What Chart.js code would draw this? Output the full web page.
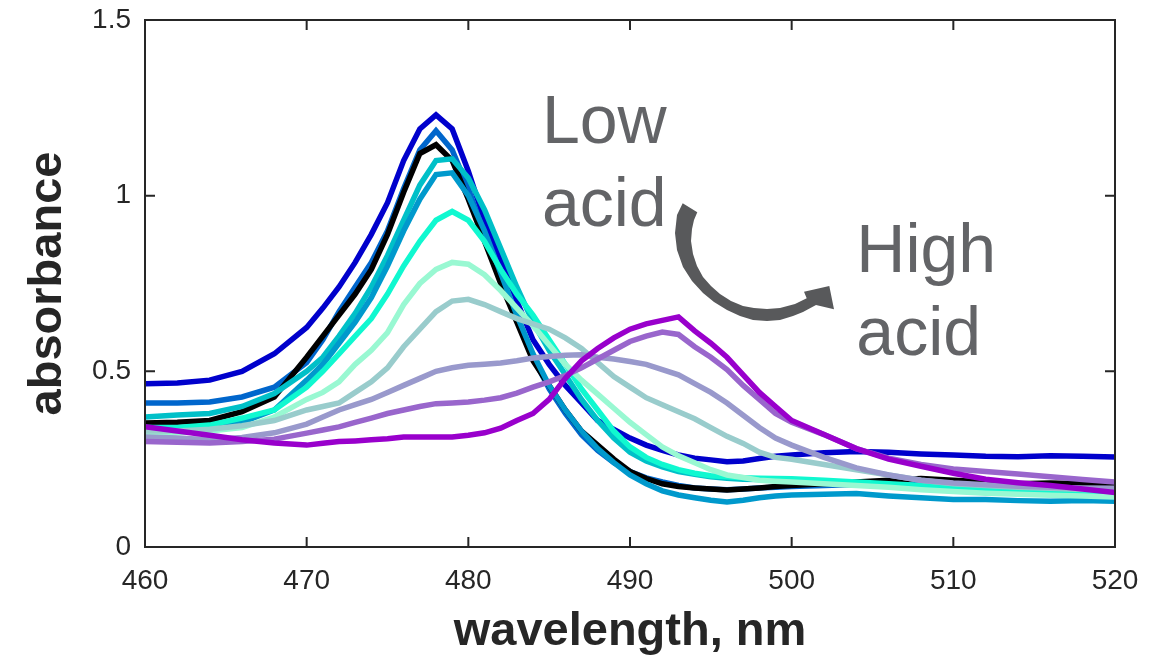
<!DOCTYPE html>
<html>
<head>
<meta charset="utf-8">
<title>absorbance vs wavelength</title>
<script src="https://cdn.jsdelivr.net/npm/chart.js@4.4.1/dist/chart.umd.min.js"></script>
<style>
  body { margin: 0; background: #fff; }
  #wrap { width: 1162px; height: 660px; }
</style>
</head>
<body>
<div id="wrap"><canvas id="spectra"></canvas></div>
<script>
// wavelength (nm) - shared x values of every spectrum
var wavelengths = [460, 462, 464, 466, 468,
  470, 471, 472, 473, 474, 475, 476, 477, 478, 479,
  480, 481, 482, 483, 484, 485, 486, 487, 488, 489,
  490, 491, 492, 493, 494, 495, 496, 497, 498, 499,
  500, 502, 504, 506, 508, 510, 512, 514, 516, 518, 520];

// absorbance, low acid -> high acid
var darkBlue = [.465, .467, .475, .50, .55,
  .625, .68, .74, .81, .89, .98, 1.10, 1.19, 1.23, 1.19,
  1.07, .93, .82, .70, .59, .52, .46, .41, .36, .335,
  .31, .29, .275, .262, .253, .248, .243, .245, .252, .258,
  .262, .268, .272, .27, .265, .262, .258, .257, .26, .258, .256];
var midBlue = [.41, .41, .413, .427, .455,
  .525, .59, .67, .74, .81, .90, 1.02, 1.13, 1.185, 1.13,
  1.02, .89, .77, .65, .54, .45, .38, .32, .275, .24,
  .215, .197, .185, .175, .168, .165, .163, .165, .168, .17,
  .172, .175, .178, .18, .18, .182, .18, .178, .18, .178, .176];
var black = [.353, .355, .36, .385, .427,
  .54, .60, .66, .72, .79, .89, 1.01, 1.12, 1.145, 1.10,
  .99, .87, .75, .64, .53, .46, .39, .33, .29, .25,
  .215, .195, .18, .172, .168, .165, .162, .165, .168, .172,
  .175, .18, .185, .19, .195, .19, .185, .18, .182, .18, .178];
var teal = [.37, .376, .38, .40, .437,
  .50, .54, .60, .665, .74, .83, .93, 1.03, 1.10, 1.105,
  1.05, .96, .85, .74, .64, .56, .49, .42, .36, .31,
  .27, .245, .228, .215, .207, .2, .196, .193, .192, .19,
  .19, .188, .18, .175, .17, .165, .16, .157, .155, .152, .15];
var steelBlue = [.335, .335, .34, .355, .39,
  .475, .52, .58, .64, .71, .80, .90, .99, 1.06, 1.065,
  1.0, .90, .78, .66, .55, .46, .39, .33, .28, .24,
  .205, .18, .16, .148, .14, .133, .128, .133, .14, .145,
  .148, .15, .152, .145, .14, .135, .135, .132, .13, .132, .13];
var aqua = [.34, .34, .347, .367, .39,
  .455, .50, .55, .60, .65, .72, .80, .87, .93, .955,
  .93, .87, .79, .72, .66, .59, .52, .45, .39, .33,
  .285, .255, .235, .22, .21, .203, .2, .197, .196, .195,
  .194, .19, .185, .18, .175, .168, .162, .158, .155, .15, .145];
var lightAqua = [.32, .325, .33, .34, .37,
  .42, .44, .47, .52, .56, .61, .69, .75, .79, .81,
  .805, .775, .73, .68, .63, .575, .52, .475, .435, .395,
  .355, .32, .285, .26, .24, .22, .205, .198, .19, .187,
  .185, .18, .175, .17, .163, .158, .153, .15, .147, .145, .142];
var grayTeal = [.33, .33, .335, .345, .36,
  .39, .40, .41, .44, .47, .51, .57, .62, .67, .70,
  .705, .69, .67, .65, .635, .62, .595, .565, .525, .485,
  .455, .425, .405, .385, .365, .34, .315, .295, .27, .255,
  .25, .235, .22, .205, .19, .18, .175, .17, .167, .164, .162];
var lavender = [.313, .31, .305, .312, .325,
  .35, .37, .39, .405, .42, .44, .46, .48, .50, .51,
  .517, .52, .524, .53, .538, .542, .546, .547, .54, .535,
  .528, .52, .505, .49, .465, .44, .41, .375, .34, .31,
  .29, .255, .225, .205, .19, .182, .177, .173, .17, .168, .167];
var midPurple = [.30, .298, .296, .30, .307,
  .324, .333, .342, .355, .367, .38, .39, .40, .408, .41,
  .413, .418, .425, .438, .455, .47, .488, .51, .535, .56,
  .585, .60, .612, .605, .57, .54, .505, .46, .42, .38,
  .355, .32, .28, .253, .235, .222, .215, .208, .2, .192, .185];
var purple = [.342, .33, .318, .305, .296,
  .29, .295, .30, .302, .305, .308, .313, .313, .313, .313,
  .318, .325, .338, .36, .38, .42, .48, .53, .565, .595,
  .62, .635, .645, .655, .615, .58, .54, .49, .44, .40,
  .36, .32, .28, .25, .23, .21, .193, .183, .175, .165, .155];

var seriesList = [darkBlue, midBlue, black, teal, steelBlue, aqua, lightAqua, grayTeal, lavender, midPurple, purple];
var seriesColors = ['#0000CC', '#0066CC', '#000000', '#00C0C8', '#0099CC', '#10F8D0', '#99F8D2', '#99CCCC', '#9999CC', '#9966CC', '#9900CC'];

var xTicks = [460, 470, 480, 490, 500, 510, 520];
var yTicks = [0, 0.5, 1, 1.5];

var axisColor = '#262626';
var noteColor = '#636467';

// build datasets; Chart.js paints dataset 0 on top, so reverse to get purple on top
var datasets = seriesList.map(function(vals, i) {
  return {
    data: vals.map(function(v, j) { return { x: wavelengths[j], y: v }; }),
    borderColor: seriesColors[i],
    borderWidth: 5.5,
    pointRadius: 0,
    tension: 0,
    fill: false
  };
}).reverse();

// outline of the curved arrow (page pixels), outer edge, head, inner edge
var arrowShape = [
  [682.7, 203.3], [677, 215], [675, 233], [677, 250], [683, 267], [692, 281],
  [703, 293], [714, 302], [727, 310], [740, 316], [753, 320], [767, 321],
  [780, 320], [793, 316], [803, 312], [816, 305], [834, 309.3], [829.3, 286],
  [804, 291.7], [806.7, 298.3], [795, 304], [780, 308], [767, 309], [754, 308],
  [743, 306], [731, 301], [720, 294], [711, 286], [703, 277], [697, 266],
  [693, 254], [691, 241], [692, 229], [694, 220], [697.3, 212.3]
];

// box + inward ticks + the "Low acid -> High acid" note
var decorations = {
  id: 'decorations',
  afterDatasetsDraw: function(chart) {
    var ctx = chart.ctx, a = chart.chartArea;
    var xs = chart.scales.x, ys = chart.scales.y;
    ctx.save();
    ctx.strokeStyle = axisColor;
    ctx.lineWidth = 2;
    ctx.strokeRect(a.left, a.top, a.right - a.left, a.bottom - a.top);
    ctx.beginPath();
    xTicks.forEach(function(t) {
      var px = xs.getPixelForValue(t);
      ctx.moveTo(px, a.bottom); ctx.lineTo(px, a.bottom - 10);
      ctx.moveTo(px, a.top); ctx.lineTo(px, a.top + 10);
    });
    yTicks.forEach(function(t) {
      var py = ys.getPixelForValue(t);
      ctx.moveTo(a.left, py); ctx.lineTo(a.left + 10, py);
      ctx.moveTo(a.right, py); ctx.lineTo(a.right - 10, py);
    });
    ctx.stroke();

    ctx.fillStyle = noteColor;
    ctx.font = '68px "Liberation Sans", Arial, sans-serif';
    ctx.textAlign = 'left';
    ctx.textBaseline = 'alphabetic';
    ctx.fillText('Low', xs.getPixelForValue(484.55), ys.getPixelForValue(1.15));
    ctx.fillText('acid', xs.getPixelForValue(484.55), ys.getPixelForValue(0.914));
    ctx.fillText('High', xs.getPixelForValue(504.0), ys.getPixelForValue(0.783));
    ctx.fillText('acid', xs.getPixelForValue(504.0), ys.getPixelForValue(0.547));

    ctx.fillStyle = '#58595B';
    ctx.beginPath();
    arrowShape.forEach(function(p, i) {
      if (i === 0) ctx.moveTo(p[0], p[1]); else ctx.lineTo(p[0], p[1]);
    });
    ctx.closePath();
    ctx.fill();
    ctx.restore();
  }
};

var tickFont = { family: '"Liberation Sans", Arial, sans-serif', size: 28 };
var titleFont = { family: '"Liberation Sans", Arial, sans-serif', size: 47, weight: 'bold' };

new Chart(document.getElementById('spectra'), {
  type: 'line',
  data: { datasets: datasets },
  options: {
    responsive: true,
    maintainAspectRatio: false,
    devicePixelRatio: 1,
    animation: false,
    layout: { padding: { top: 20, right: 47, left: 0, bottom: 0 } },
    plugins: { legend: { display: false }, tooltip: { enabled: false } },
    scales: {
      x: {
        type: 'linear',
        min: 460, max: 520,
        afterFit: function(s) { s.height = 113; s.paddingLeft = 0; s.paddingRight = 0; },
        afterBuildTicks: function(s) { s.ticks = xTicks.map(function(v) { return { value: v }; }); },
        grid: { display: false, drawTicks: false },
        border: { display: false },
        ticks: { color: axisColor, font: tickFont, padding: 17, maxRotation: 0 },
        title: { display: true, text: 'wavelength, nm', color: axisColor, font: titleFont, padding: { top: 0, bottom: 0 } }
      },
      y: {
        min: 0, max: 1.5,
        afterFit: function(s) { s.width = 145; s.paddingTop = 0; s.paddingBottom = 0; },
        afterBuildTicks: function(s) { s.ticks = yTicks.map(function(v) { return { value: v }; }); },
        grid: { display: false, drawTicks: false },
        border: { display: false },
        ticks: {
          color: axisColor, font: tickFont, padding: 14,
          callback: function(v) { return String(v); }
        },
        title: { display: true, text: 'absorbance', color: axisColor, font: titleFont, padding: { top: 20, bottom: 0 } }
      }
    }
  },
  plugins: [decorations]
});
</script>
</body>
</html>
